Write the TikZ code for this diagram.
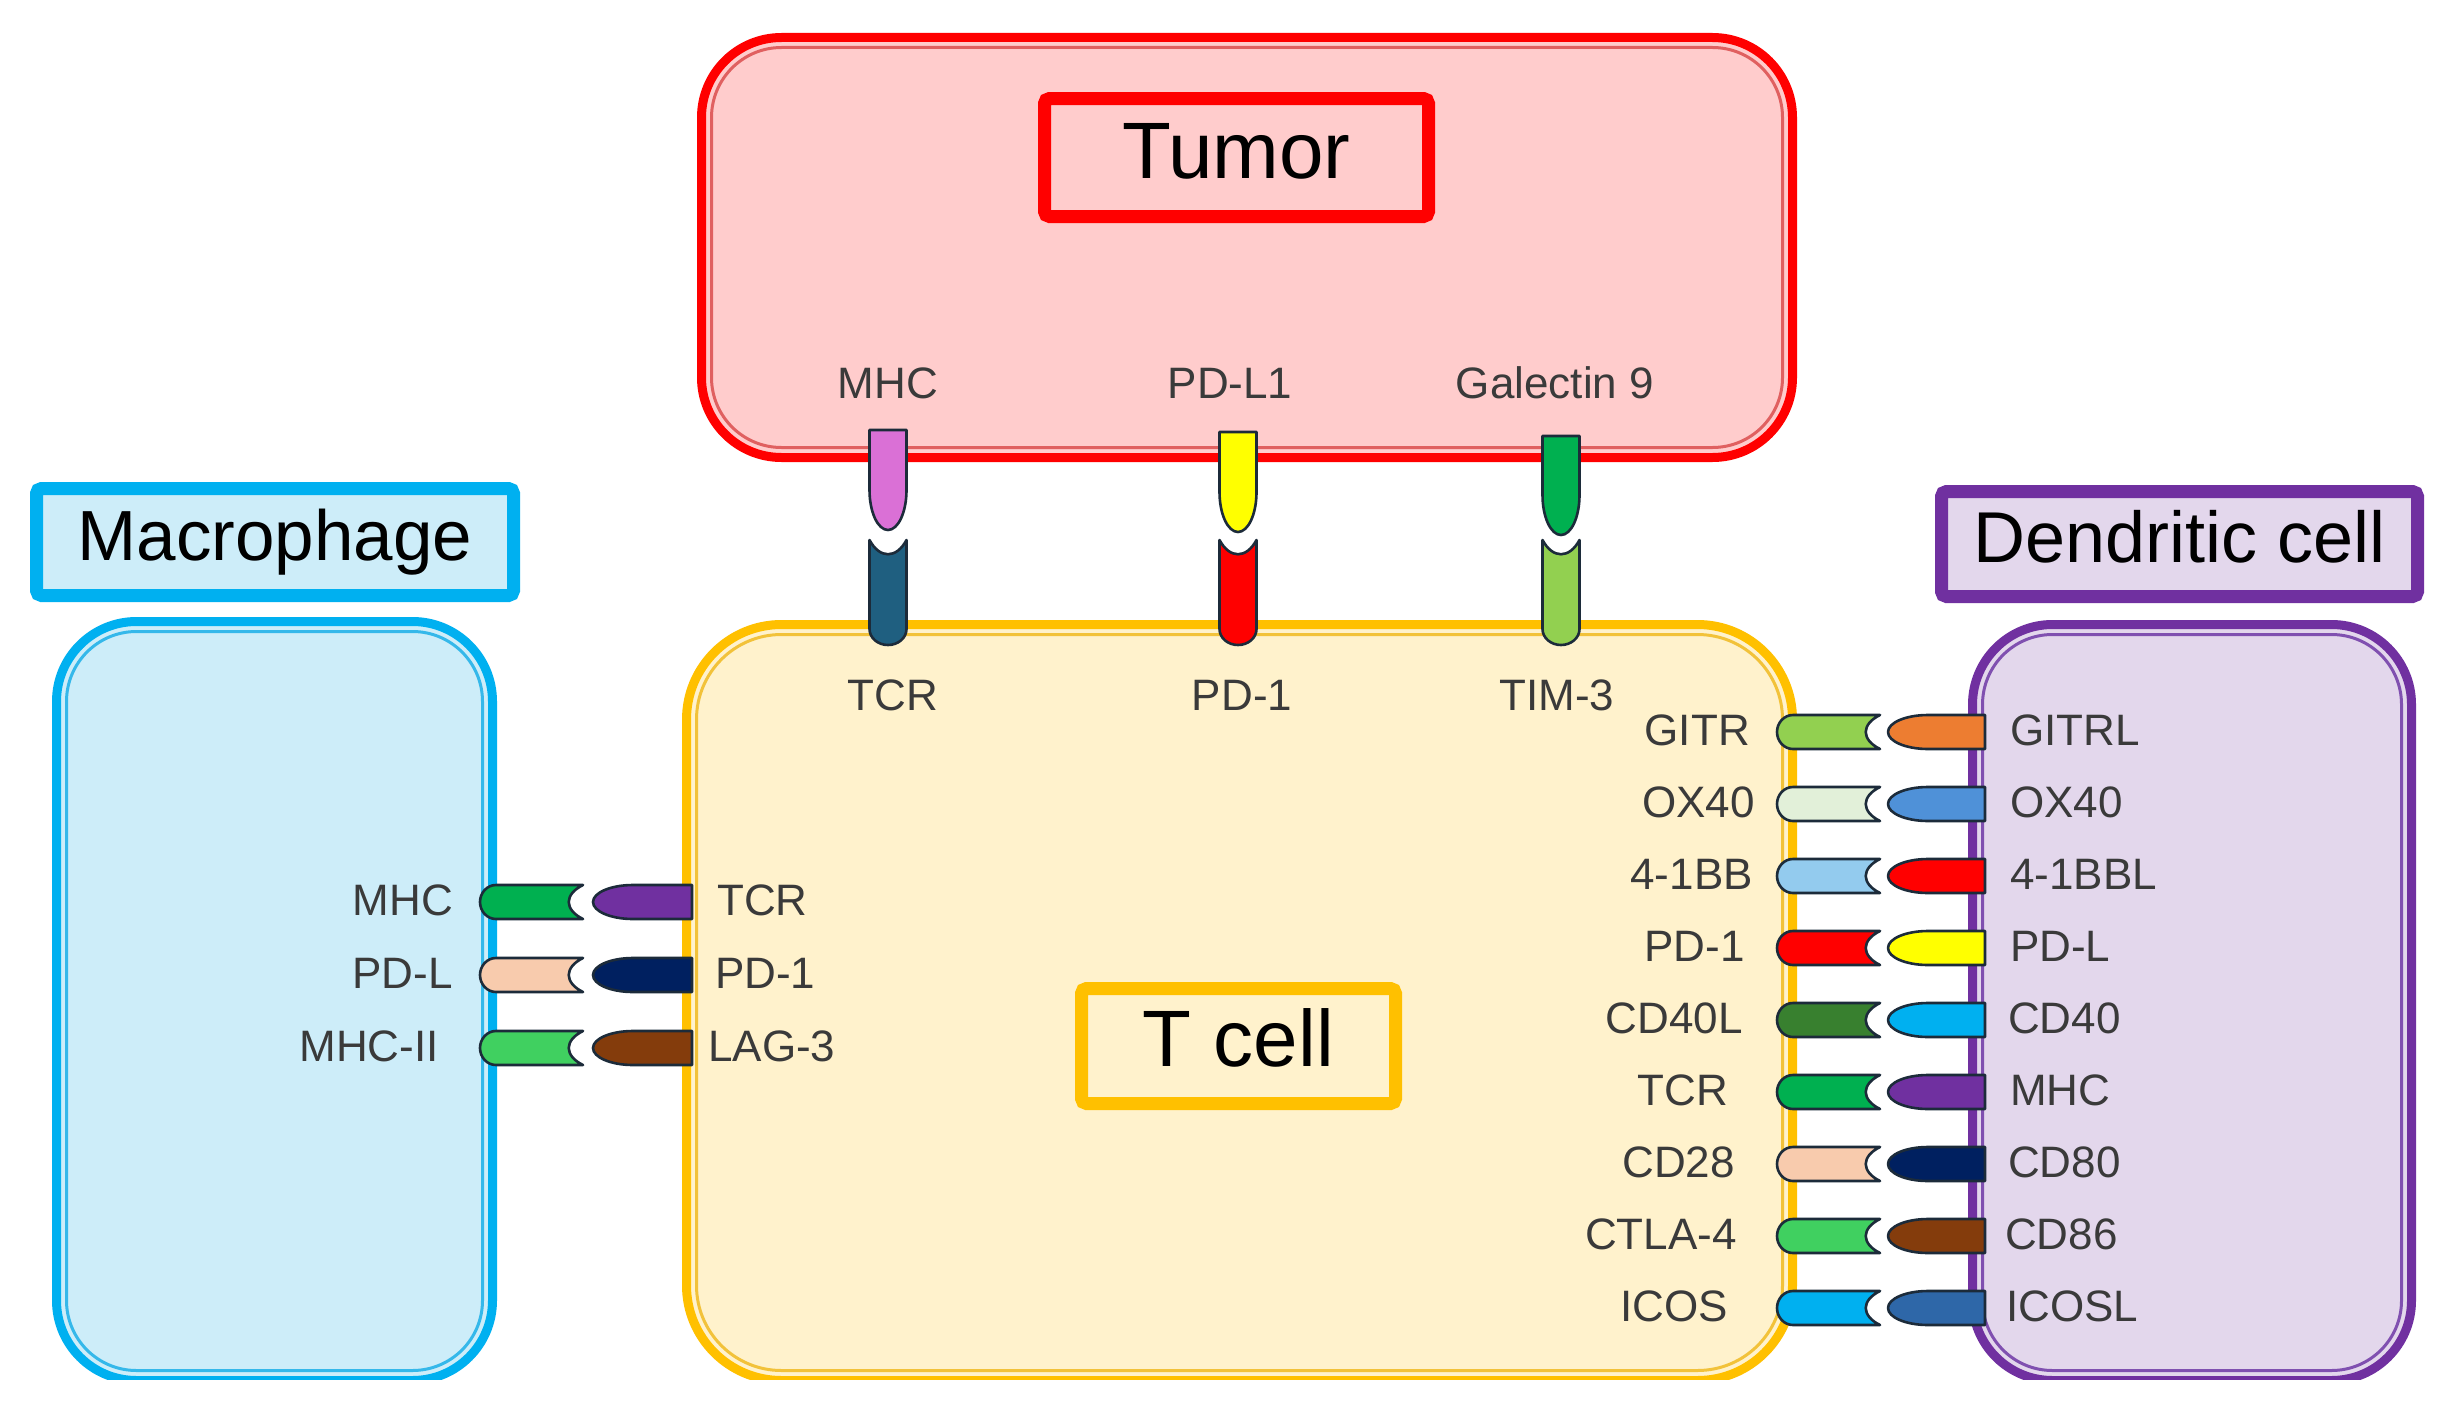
\documentclass[tikz,border=0pt]{standalone}
\usepackage{fontspec}
\setmainfont{Liberation Sans}
\definecolor{tumfill}{HTML}{FFCCCC}
\definecolor{tumline}{HTML}{FF0000}
\definecolor{tumin}{HTML}{E06060}
\definecolor{tfill}{HTML}{FFF2CC}
\definecolor{tline}{HTML}{FFC000}
\definecolor{tin}{HTML}{F2C23A}
\definecolor{mfill}{HTML}{CDEDF9}
\definecolor{mline}{HTML}{00B0F0}
\definecolor{min}{HTML}{35B8EA}
\definecolor{dfill}{HTML}{E3D7EC}
\definecolor{dline}{HTML}{7030A0}
\definecolor{din}{HTML}{8050B0}
\definecolor{pline}{HTML}{1C2B3A}
\definecolor{txt}{HTML}{3A3A3A}
\definecolor{cOrchid}{HTML}{DA70D6}
\definecolor{cTealBlue}{HTML}{1F5F80}
\definecolor{cYellow}{HTML}{FFFF00}
\definecolor{cRed}{HTML}{FF0000}
\definecolor{cGreen}{HTML}{00B050}
\definecolor{cLime}{HTML}{92D050}
\definecolor{cOrange}{HTML}{ED7D31}
\definecolor{cPale}{HTML}{E2F0D9}
\definecolor{cMidBlue}{HTML}{4F91D8}
\definecolor{cSky}{HTML}{93CBEE}
\definecolor{cDkGreen}{HTML}{38802F}
\definecolor{cCyan}{HTML}{00B0F0}
\definecolor{cPurple}{HTML}{7030A0}
\definecolor{cPeach}{HTML}{F8CBAD}
\definecolor{cNavy}{HTML}{002060}
\definecolor{cLtGreen}{HTML}{40D060}
\definecolor{cBrown}{HTML}{843C0C}
\definecolor{cSteel}{HTML}{2E67A8}
% tip-shaped piece: flat base at (#1,#2), rotated #3, length #4, half width #5, colour #6
\newcommand\tipshape[6]{\begin{scope}[shift={(#1,#2)},rotate=#3]
 \filldraw[piece,fill=#6] (0,-#5) -- ({#4-40},-#5) arc[start angle=-90,end angle=90,x radius=40,y radius=#5] -- (0,#5) -- cycle;
\end{scope}}
% cup-shaped piece: rounded base at (#1,#2), rotated #3, length #4, half width #5, colour #6
\newcommand\cupshape[6]{\begin{scope}[shift={(#1,#2)},rotate=#3]
 \filldraw[piece,fill=#6] (16,#5) arc[start angle=90,end angle=270,x radius=16,y radius=#5] -- (#4,-#5) .. controls ({#4-19},{-#5*0.45}) and ({#4-19},{#5*0.45}) .. (#4,#5) -- cycle;
\end{scope}}
\begin{document}
\begin{tikzpicture}[x=1pt,y=-1pt,
  piece/.style={draw=pline,line width=2.6pt,line join=round},
  cellbox/.style={rectangle,outer sep=0pt,inner sep=0pt,line width=9pt},
  innerline/.style={line width=3pt},
  labbox/.style={rectangle,outer sep=0pt,inner sep=0pt,line width=13pt,rounded corners=5pt,text=black},
  lbl/.style={inner sep=0pt,text=txt,font=\fontsize{44}{44}\selectfont,text height=31.5pt,text depth=0pt}]
\useasboundingbox (0,0) rectangle (2450,1413);
\fill[white] (0,0) rectangle (2450,1413);

% ---- cells ----
\node[cellbox,draw=tumline,fill=tumfill,rounded corners=80pt,minimum width=1091pt,minimum height=420pt] (tumor) at (1247,247.5) {};
\draw[innerline,tumin,rounded corners=70pt] ([xshift=10pt,yshift=-10pt]tumor.north west) rectangle ([xshift=-10pt,yshift=10pt]tumor.south east);

\begin{scope}
\clip (0,0) rectangle (2450,1379);
\node[cellbox,draw=tline,fill=tfill,rounded corners=95pt,minimum width=1106pt,minimum height=756pt] (tcell) at (1239.5,1002.5) {};
\draw[innerline,tin,rounded corners=85pt] ([xshift=10pt,yshift=-10pt]tcell.north west) rectangle ([xshift=-10pt,yshift=10pt]tcell.south east);
\node[cellbox,draw=mline,fill=mfill,rounded corners=80pt,minimum width=436pt,minimum height=759pt] (macro) at (274.5,1001) {};
\draw[innerline,min,rounded corners=70pt] ([xshift=10pt,yshift=-10pt]macro.north west) rectangle ([xshift=-10pt,yshift=10pt]macro.south east);
\node[cellbox,draw=dline,fill=dfill,rounded corners=80pt,minimum width=439pt,minimum height=756pt] (dc) at (2192,1002.5) {};
\draw[innerline,din,rounded corners=70pt] ([xshift=10pt,yshift=-10pt]dc.north west) rectangle ([xshift=-10pt,yshift=10pt]dc.south east);
\end{scope}

% ---- title boxes ----
\node[labbox,draw=tumline,fill=tumfill,minimum width=384pt,minimum height=118pt,font=\fontsize{80}{80}\selectfont,text height=58pt,text depth=17pt] (tumorlab) at (1236.5,157.5) {Tumor};
\node[labbox,draw=mline,fill=mfill,minimum width=477pt,minimum height=107pt,font=\fontsize{71}{71}\selectfont,text height=51pt,text depth=15pt] (macrolab) at (275,542) {Macrophage};
\node[labbox,draw=dline,fill=dfill,minimum width=476pt,minimum height=105pt,font=\fontsize{72}{72}\selectfont,text height=52pt,text depth=15pt] (dclab) at (2179.5,544) {Dendritic cell};
\node[labbox,draw=tline,fill=tfill,minimum width=314pt,minimum height=115pt,font=\fontsize{80}{80}\selectfont,text height=58pt,text depth=17pt] (tcelllab) at (1238.5,1046) {T cell};

% ---- tumor / T cell pairs ----
\tipshape{888}{430}{-90}{100}{18.5}{cOrchid}
\cupshape{888}{645}{90}{105}{18.5}{cTealBlue}
\tipshape{1238}{432}{-90}{100}{18.5}{cYellow}
\cupshape{1238}{645}{90}{105}{18.5}{cRed}
\tipshape{1561}{436}{-90}{99}{18.5}{cGreen}
\cupshape{1561}{645}{90}{105}{18.5}{cLime}

\node[lbl] (tMHC) at (888,383) {MHC};
\node[lbl] (tPDL1) at (1230,383) {PD-L1};
\node[lbl] (tGal) at (1555,383) {Galectin 9};
\node[lbl] (bTCR) at (893,695) {TCR};
\node[lbl] (bPD1) at (1242,695) {PD-1};
\node[lbl] (bTIM) at (1557,695) {TIM-3};

% ---- macrophage / T cell pairs ----
\cupshape{480}{902}{0}{103}{17}{cGreen}
\tipshape{692}{902}{180}{99}{17}{cPurple}
\cupshape{480}{975}{0}{103}{17}{cPeach}
\tipshape{692}{975}{180}{99}{17}{cNavy}
\cupshape{480}{1048}{0}{103}{17}{cLtGreen}
\tipshape{692}{1048}{180}{99}{17}{cBrown}

\node[lbl,anchor=east] (mMHC) at (453,900) {MHC};
\node[lbl,anchor=east] (mPDL) at (453,973) {PD-L};
\node[lbl,anchor=east] (mMHCII) at (439,1046) {MHC-II};
\node[lbl,anchor=west] (lTCR) at (717,900) {TCR};
\node[lbl,anchor=west] (lPD1) at (715,973) {PD-1};
\node[lbl,anchor=west] (lLAG) at (708,1046) {LAG-3};

% ---- T cell / dendritic cell pairs ----
\cupshape{1777}{732}{0}{103}{17}{cLime}
\tipshape{1985}{732}{180}{97}{17}{cOrange}
\cupshape{1777}{804}{0}{103}{17}{cPale}
\tipshape{1985}{804}{180}{97}{17}{cMidBlue}
\cupshape{1777}{876}{0}{103}{17}{cSky}
\tipshape{1985}{876}{180}{97}{17}{cRed}
\cupshape{1777}{948}{0}{103}{17}{cRed}
\tipshape{1985}{948}{180}{97}{17}{cYellow}
\cupshape{1777}{1020}{0}{103}{17}{cDkGreen}
\tipshape{1985}{1020}{180}{97}{17}{cCyan}
\cupshape{1777}{1092}{0}{103}{17}{cGreen}
\tipshape{1985}{1092}{180}{97}{17}{cPurple}
\cupshape{1777}{1164}{0}{103}{17}{cPeach}
\tipshape{1985}{1164}{180}{97}{17}{cNavy}
\cupshape{1777}{1236}{0}{103}{17}{cLtGreen}
\tipshape{1985}{1236}{180}{97}{17}{cBrown}
\cupshape{1777}{1308}{0}{103}{17}{cCyan}
\tipshape{1985}{1308}{180}{97}{17}{cSteel}

\node[lbl,anchor=east] (rGITR) at (1750,730) {GITR};
\node[lbl,anchor=east] (rOX40) at (1755,802) {OX40};
\node[lbl,anchor=east] (r41BB) at (1753,874) {4-1BB};
\node[lbl,anchor=east] (rPD1) at (1745,946) {PD-1};
\node[lbl,anchor=east] (rCD40L) at (1743,1018) {CD40L};
\node[lbl,anchor=east] (rTCR) at (1728,1090) {TCR};
\node[lbl,anchor=east] (rCD28) at (1735,1162) {CD28};
\node[lbl,anchor=east] (rCTLA) at (1737,1234) {CTLA-4};
\node[lbl,anchor=east] (rICOS) at (1728,1306) {ICOS};

\node[lbl,anchor=west] (dGITRL) at (2010,730) {GITRL};
\node[lbl,anchor=west] (dOX40) at (2010,802) {OX40};
\node[lbl,anchor=west] (d41BBL) at (2010,874) {4-1BBL};
\node[lbl,anchor=west] (dPDL) at (2010,946) {PD-L};
\node[lbl,anchor=west] (dCD40) at (2008,1018) {CD40};
\node[lbl,anchor=west] (dMHC) at (2010,1090) {MHC};
\node[lbl,anchor=west] (dCD80) at (2008,1162) {CD80};
\node[lbl,anchor=west] (dCD86) at (2005,1234) {CD86};
\node[lbl,anchor=west] (dICOSL) at (2006,1306) {ICOSL};
\end{tikzpicture}
\end{document}
